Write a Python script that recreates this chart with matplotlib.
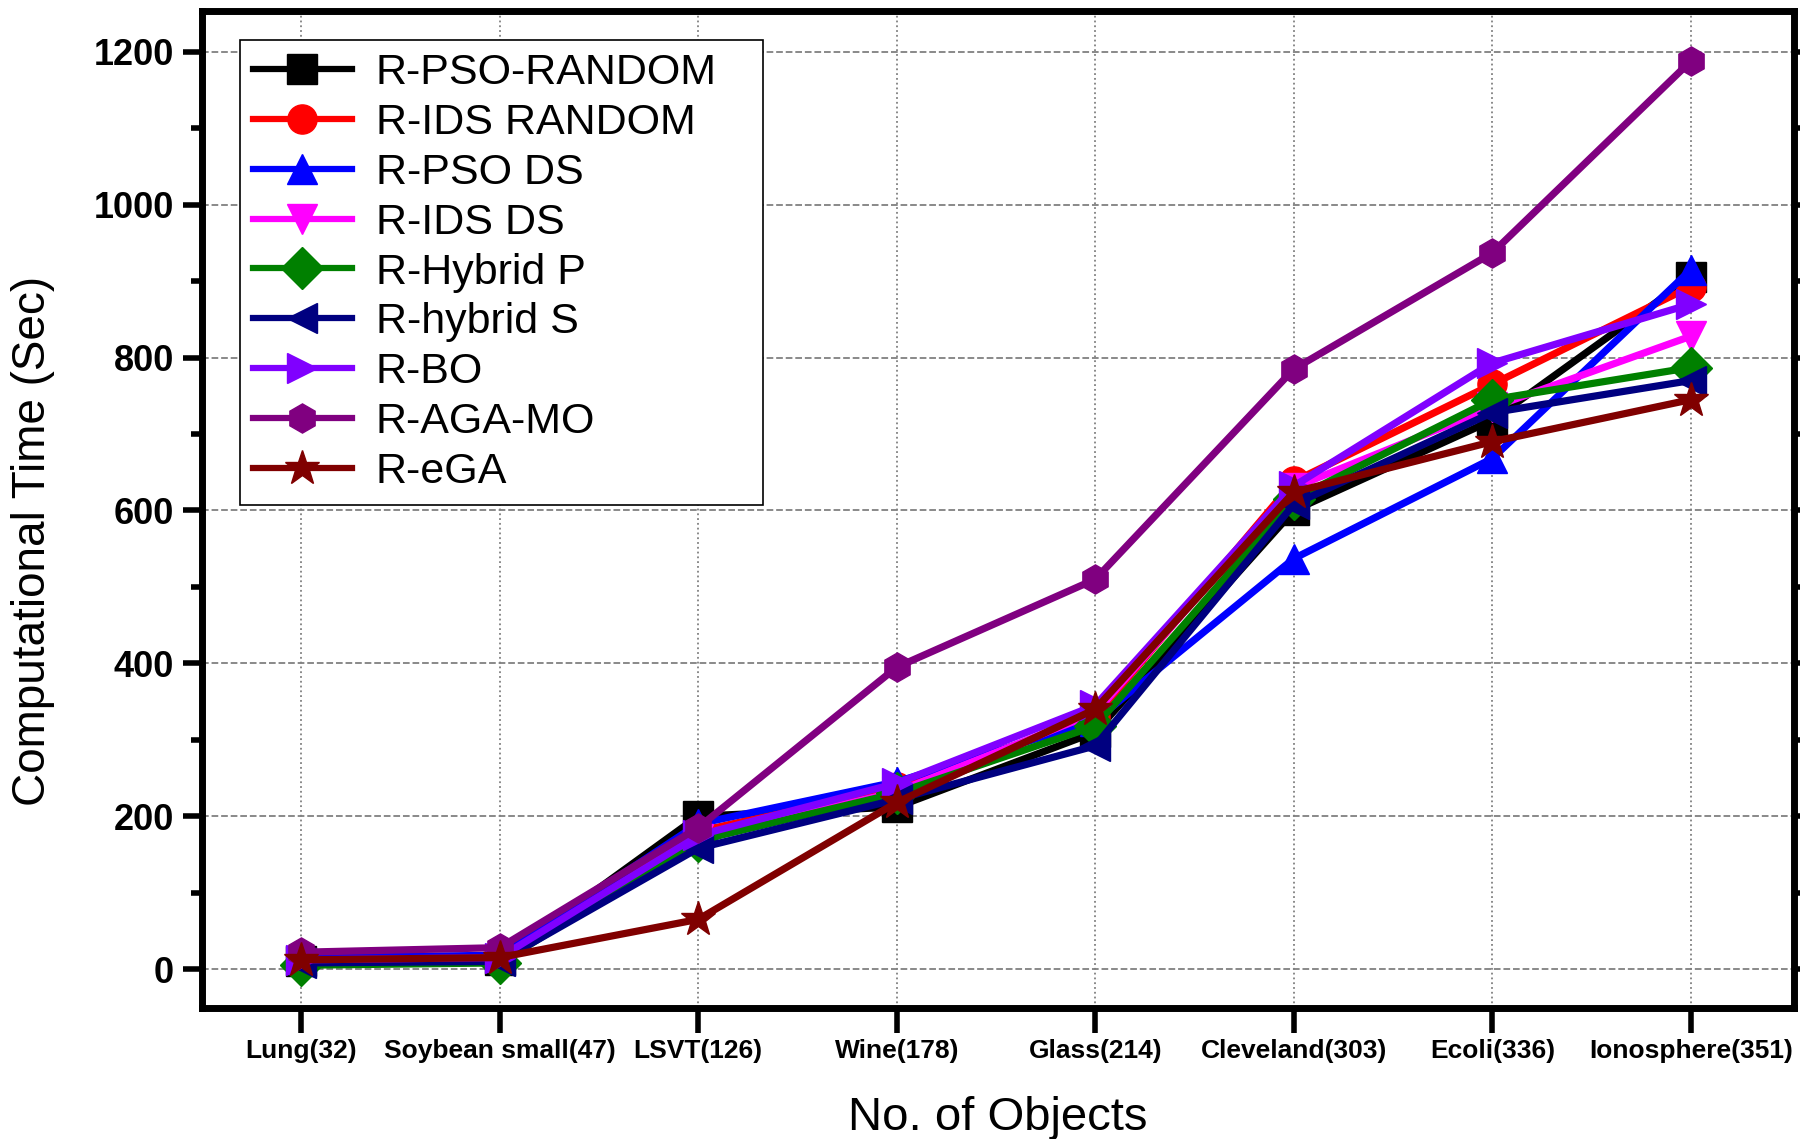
import matplotlib
matplotlib.use('Agg')
import matplotlib.pyplot as plt
from matplotlib.ticker import MultipleLocator

datasets = ['Lung(32)', 'Soybean small(47)', 'LSVT(126)', 'Wine(178)',
            'Glass(214)', 'Cleveland(303)', 'Ecoli(336)', 'Ionosphere(351)']

r_pso_random = [10, 12, 200, 212, 310, 600, 718, 905]
r_ids_random = [12, 15, 180, 238, 330, 638, 765, 893]
r_pso_ds     = [15, 18, 190, 245, 325, 537, 668, 915]
r_ids_ds     = [8, 10, 170, 232, 335, 630, 735, 828]
r_hybrid_p   = [5, 8, 168, 230, 318, 615, 745, 787]
r_hybrid_s   = [8, 10, 158, 222, 292, 608, 728, 770]
r_bo         = [12, 15, 175, 243, 345, 632, 793, 870]
r_aga_mo     = [22, 28, 185, 395, 510, 785, 937, 1188]
r_ega        = [12, 15, 65, 218, 340, 624, 690, 745]

names = ['R-PSO-RANDOM', 'R-IDS RANDOM', 'R-PSO DS', 'R-IDS DS', 'R-Hybrid P',
         'R-hybrid S', 'R-BO', 'R-AGA-MO', 'R-eGA']
series = [r_pso_random, r_ids_random, r_pso_ds, r_ids_ds, r_hybrid_p,
          r_hybrid_s, r_bo, r_aga_mo, r_ega]
colors = ['black', 'red', 'blue', 'magenta', '#008000', '#000080', '#8000FF',
          '#800080', '#800000']
markers = ['s', 'o', '^', 'v', 'D', '<', '>', 'h', '*']

plt.rcParams['font.family'] = ['Liberation Sans', 'DejaVu Sans']

fig = plt.figure(figsize=(18, 11.39), dpi=100)
ax = fig.add_axes([0.1122, 0.115, 0.8845, 0.875])

x = list(range(len(datasets)))
for i in range(len(series)):
    ms = 26 if markers[i] == '*' else 21
    ax.plot(x, series[i], color=colors[i], marker=markers[i], markersize=ms,
            linewidth=5.2, label=names[i])

ax.set_xlim(-0.5, 7.52)
ax.set_ylim(-51, 1253)
ax.yaxis.set_major_locator(MultipleLocator(200))
ax.yaxis.set_minor_locator(MultipleLocator(100))
ax.set_xticks(x)
ax.set_xticklabels(datasets, fontsize=19, fontweight='bold')
for lab in ax.get_yticklabels():
    lab.set_fontsize(26)
    lab.set_fontweight('bold')

ax.yaxis.grid(True, linestyle='--', color='gray', linewidth=1.3)
ax.xaxis.grid(True, linestyle=':', color='gray', linewidth=1.3)
ax.set_axisbelow(True)

for s in ax.spines.values():
    s.set_linewidth(5)
ax.tick_params(axis='x', which='major', direction='out', length=18, width=4, pad=4)
ax.tick_params(axis='y', which='major', direction='out', length=14, width=4, pad=6,
               right=True)
ax.tick_params(axis='y', which='minor', direction='out', length=8, width=4, right=True)

ax.set_xlabel('No. of Objects', fontsize=34, labelpad=24)
ax.set_ylabel('Computational Time (Sec)', fontsize=33)
ax.yaxis.set_label_coords(-0.092, 0.469)

leg = ax.legend(loc='upper left', bbox_to_anchor=(0.1333, 0.559, 0.2907, 0.4059),
                bbox_transform=fig.transFigure, mode='expand',
                fontsize=31, numpoints=1, handlelength=2.3, labelspacing=0.23,
                borderaxespad=0, borderpad=0.3, handletextpad=0.55, fancybox=False,
                edgecolor='black', framealpha=1)
leg.get_frame().set_linewidth(1.2)
for h in leg.legend_handles:
    h.set_linewidth(4.5)

plt.savefig('out.png', dpi=100)
